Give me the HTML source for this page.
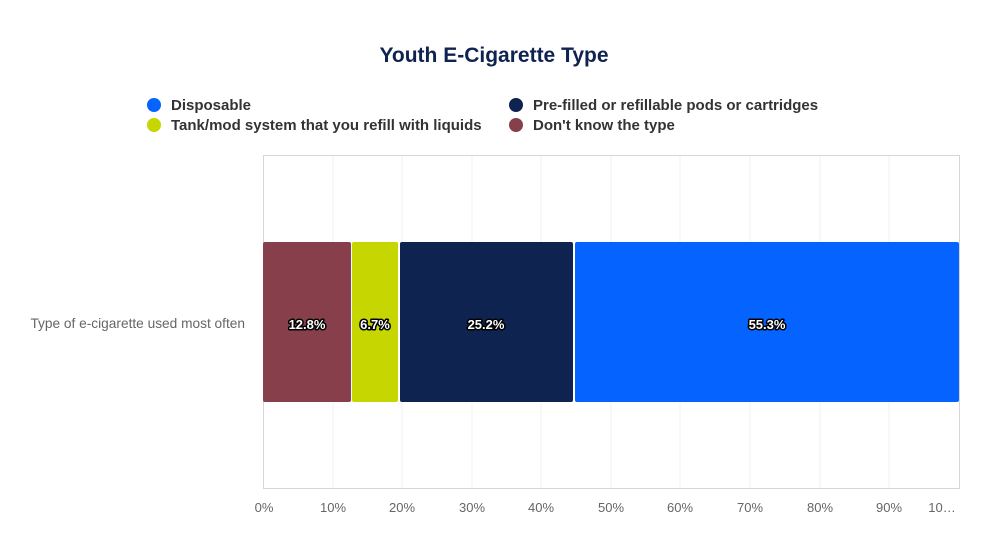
<!DOCTYPE html>
<html><head><meta charset="utf-8"><style>
html,body{margin:0;padding:0;background:#fff;}
svg{display:block;font-family:"Liberation Sans",Arial,sans-serif;}
</style></head><body>
<svg width="985" height="560" viewBox="0 0 985 560">
<text x="494" y="62" text-anchor="middle" font-size="21" font-weight="bold" fill="#0e2350">Youth E-Cigarette Type</text>
<g font-size="15" font-weight="bold" fill="#333">
<circle cx="154" cy="105" r="7" fill="#0563ff"/><text x="171" y="110">Disposable</text>
<circle cx="154" cy="125" r="7" fill="#c5d600"/><text x="171" y="130">Tank/mod system that you refill with liquids</text>
<circle cx="516" cy="105" r="7" fill="#0e2350"/><text x="533" y="110">Pre-filled or refillable pods or cartridges</text>
<circle cx="516" cy="125" r="7" fill="#87404b"/><text x="533" y="130">Don't know the type</text>
</g>
<g stroke="#f0f0f0" stroke-width="1">
<line x1="333" y1="155" x2="333" y2="489"/><line x1="402" y1="155" x2="402" y2="489"/>
<line x1="472" y1="155" x2="472" y2="489"/><line x1="541" y1="155" x2="541" y2="489"/>
<line x1="611" y1="155" x2="611" y2="489"/><line x1="680" y1="155" x2="680" y2="489"/>
<line x1="750" y1="155" x2="750" y2="489"/><line x1="820" y1="155" x2="820" y2="489"/>
<line x1="889" y1="155" x2="889" y2="489"/>
</g>
<rect x="263.5" y="155.5" width="696" height="333" fill="none" stroke="#d6d6d6"/>
<rect x="263" y="242" width="88" height="160" rx="2" fill="#87404b"/>
<rect x="352" y="242" width="46" height="160" rx="2" fill="#c5d600"/>
<rect x="400" y="242" width="173" height="160" rx="2" fill="#0e2350"/>
<rect x="575" y="242" width="384" height="160" rx="2" fill="#0563ff"/>
<g font-size="13" font-weight="bold" fill="#fff" stroke="#000" stroke-width="3" paint-order="stroke" text-anchor="middle" stroke-linejoin="round">
<text x="307" y="329">12.8%</text><text x="375" y="329">6.7%</text><text x="486" y="329">25.2%</text><text x="767" y="329">55.3%</text>
</g>
<text x="245" y="328" text-anchor="end" font-size="13.7" fill="#666">Type of e-cigarette used most often</text>
<g font-size="13" fill="#666" text-anchor="middle">
<text x="264" y="512">0%</text><text x="333" y="512">10%</text><text x="402" y="512">20%</text>
<text x="472" y="512">30%</text><text x="541" y="512">40%</text><text x="611" y="512">50%</text>
<text x="680" y="512">60%</text><text x="750" y="512">70%</text><text x="820" y="512">80%</text>
<text x="889" y="512">90%</text><text x="942" y="512">10…</text>
</g>
</svg>
</body></html>
